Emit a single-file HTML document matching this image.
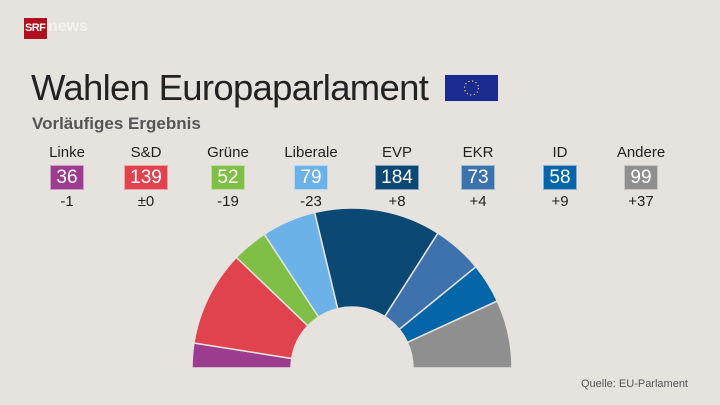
<!DOCTYPE html>
<html><head><meta charset="utf-8"><style>
body{margin:0;width:720px;height:405px;background:#e6e3de;font-family:"Liberation Sans",sans-serif;position:relative;overflow:hidden}
.a{position:absolute}
.col{position:absolute;width:90px;text-align:center;top:144px}
.col .l{font-size:15px;color:#222;height:18px;line-height:18px}
.col .b{display:inline-block;margin-top:3px;height:23px;line-height:23px;padding:0 5px;color:#fff;font-size:19px;border:1px solid rgba(255,255,255,.5)}
.col .c{font-size:15px;color:#222;margin-top:3px}
</style></head><body>
<div class="a" style="left:24px;top:18px;width:23px;height:21px;background:#b0101d"></div>
<div class="a" style="left:25px;top:22px;font-size:11px;font-weight:bold;color:#fff;letter-spacing:-0.6px">SRF</div>
<div class="a" style="left:48px;top:18px;font-size:16px;font-weight:bold;color:#f4f2ef">news</div>
<div class="a" style="left:31px;top:67px;font-size:36.5px;color:#222;letter-spacing:-0.7px">Wahlen Europaparlament</div>
<svg class="a" style="left:445px;top:75px" width="53" height="26"><rect width="53" height="26" fill="#1b2a8f"/><circle cx="26.5" cy="13" r="7" fill="none" stroke="#e8d44d" stroke-width="1.2" stroke-dasharray="1.2 2.5"/></svg>
<div class="a" style="left:32px;top:114px;font-size:17px;font-weight:bold;color:#555">Vorläufiges Ergebnis</div>
<div class="col" style="left:22px"><div class="l">Linke</div><div class="b" style="background:#9b3c8f">36</div><div class="c">-1</div></div>
<div class="col" style="left:101px"><div class="l">S&amp;D</div><div class="b" style="background:#e0434d">139</div><div class="c">±0</div></div>
<div class="col" style="left:183px"><div class="l">Grüne</div><div class="b" style="background:#7fbf45">52</div><div class="c">-19</div></div>
<div class="col" style="left:266px"><div class="l">Liberale</div><div class="b" style="background:#6bb2e8">79</div><div class="c">-23</div></div>
<div class="col" style="left:352px"><div class="l">EVP</div><div class="b" style="background:#0b4874">184</div><div class="c">+8</div></div>
<div class="col" style="left:433px"><div class="l">EKR</div><div class="b" style="background:#3d72ac">73</div><div class="c">+4</div></div>
<div class="col" style="left:515px"><div class="l">ID</div><div class="b" style="background:#0466a8">58</div><div class="c">+9</div></div>
<div class="col" style="left:596px"><div class="l">Andere</div><div class="b" style="background:#8f8f8f">99</div><div class="c">+37</div></div>
<svg class="a" style="left:0;top:0" width="720" height="405">
<g stroke="#e6e3de" stroke-width="1.5">
<path d="M192,368 A160,160 0 0 1 193.97,342.98 L291.75,358.46 A61,61 0 0 0 291,368Z" fill="#9b3c8f"/>
<path d="M193.97,342.98 A160,160 0 0 1 236.42,257.36 L307.93,325.82 A61,61 0 0 0 291.75,358.46Z" fill="#e0434d"/>
<path d="M236.42,257.36 A160,160 0 0 1 264.27,234.19 L318.55,316.99 A61,61 0 0 0 307.93,325.82Z" fill="#7fbf45"/>
<path d="M264.27,234.19 A160,160 0 0 1 314.66,212.42 L337.76,308.68 A61,61 0 0 0 318.55,316.99Z" fill="#6bb2e8"/>
<path d="M314.66,212.42 A160,160 0 0 1 437.97,233.06 L384.78,316.55 A61,61 0 0 0 337.76,308.68Z" fill="#0b4874"/>
<path d="M437.97,233.06 A160,160 0 0 1 475.90,266.77 L399.24,329.41 A61,61 0 0 0 384.78,316.55Z" fill="#3d72ac"/>
<path d="M475.90,266.77 A160,160 0 0 1 497.30,301.01 L407.39,342.46 A61,61 0 0 0 399.24,329.41Z" fill="#0466a8"/>
<path d="M497.30,301.01 A160,160 0 0 1 512,368 L413,368 A61,61 0 0 0 407.39,342.46Z" fill="#8f8f8f"/>
</g></svg>
<div class="a" style="left:581px;top:378px;font-size:11px;color:#555">Quelle: EU-Parlament</div>
</body></html>
